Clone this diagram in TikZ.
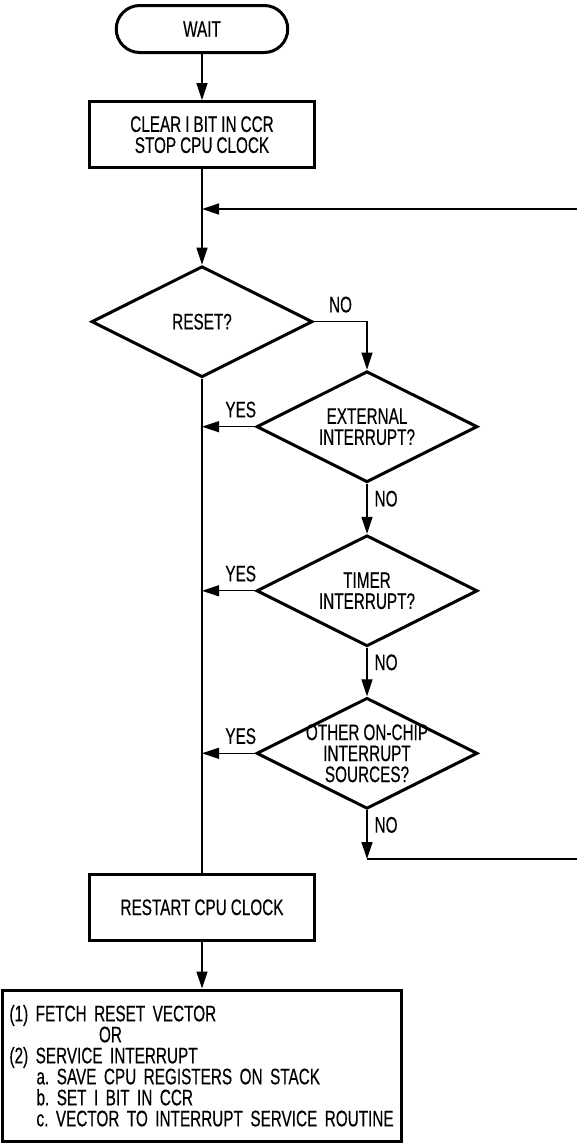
\documentclass[tikz,border=0pt]{standalone}
\usepackage{fontspec}
\setmainfont{Liberation Sans}[FakeStretch=0.68, FakeBold=0.4]
\frenchspacing
\usetikzlibrary{shapes.geometric,arrows.meta}

\newcommand\flowfont{\fontsize{22.5}{21}\selectfont\spaceskip=4pt plus 1pt minus 1pt\hyphenpenalty=10000}

\tikzset{
    txt/.style={font=\flowfont, align=center},
    term/.style={txt, draw, line width=3pt, rounded corners=23.5pt, minimum width=171.5pt, minimum height=47pt},
    proc/.style={txt, draw, line width=3pt, inner sep=0pt, minimum width=225pt, minimum height=66pt},
    decide/.style={txt, draw, diamond, aspect=2, line width=3pt, inner sep=-4pt, minimum width=221pt, minimum height=111pt},
    conn/.style={line width=1.3pt},
    flow/.style={conn, -{Triangle[length=17pt,width=11pt]}},
    lbl/.style={font=\flowfont, inner sep=1pt}
}

\begin{document}
\begin{tikzpicture}[x=1pt,y=-1pt]
    \useasboundingbox (0,0) rectangle (577,1144);
    % Nodos
    \node[term] (wait) at (202,29) {WAIT};
    \node[proc] (clear) at (202,134.7) {CLEAR I BIT IN CCR\\STOP CPU CLOCK};
    \node[decide] (reset) at (202,321.7) {RESET?};
    \node[decide] (ext) at (367,426.7) {EXTERNAL\\INTERRUPT?};
    \node[decide] (timer) at (367,590.8) {TIMER\\INTERRUPT?};
    \node[decide] (other) at (367,753.3) {OTHER ON-CHIP\\INTERRUPT\\SOURCES?};
    \node[proc] (restart) at (202,907.3) {RESTART CPU CLOCK};
    \node[proc, align=left, inner xsep=7pt, text width=385pt, minimum width=399pt, minimum height=151.5pt] (fetch) at (202,1065.75)
        {\mbox{(1) FETCH RESET VECTOR}\\
         \hspace*{89.5pt}OR\\
         \mbox{(2) SERVICE INTERRUPT}\\
         \hspace*{27pt}\mbox{a. SAVE CPU REGISTERS ON STACK}\\
         \hspace*{27pt}\mbox{b. SET I BIT IN CCR}\\
         \hspace*{27pt}\mbox{c. VECTOR TO INTERRUPT SERVICE ROUTINE}};
    % Puntos del lazo
    \coordinate (loopin) at (577,209);
    \coordinate (join) at (202,209);
    \coordinate (nocorner) at (367,859);
    \coordinate (loopout) at (577,859);
    % Flechas principales
    \draw[flow] (wait) -- (clear);
    \draw[flow] (clear) -- (reset);
    \draw[flow] (loopin) -- (join);
    \draw[conn] (reset) -- (restart);
    \draw[flow] (restart) -- (fetch);
    % Ramas NO
    \draw[flow] (reset.east) -| node[lbl, pos=0.25, above=7.5pt] {NO} (ext.north);
    \draw[flow] (ext) -- node[lbl, pos=0.3, right=6pt] {NO} (timer);
    \draw[flow] (timer) -- node[lbl, pos=0.3, right=6pt] {NO} (other);
    \draw[flow] (other) -- node[lbl, pos=0.3, right=6pt] {NO} (nocorner);
    \draw[conn] (nocorner) -- (loopout);
    % Ramas YES
    \draw[flow] (ext.west) -- node[lbl, pos=0.27, above=7.5pt] {YES} (ext.west -| reset.south);
    \draw[flow] (timer.west) -- node[lbl, pos=0.27, above=7.5pt] {YES} (timer.west -| reset.south);
    \draw[flow] (other.west) -- node[lbl, pos=0.27, above=7.5pt] {YES} (other.west -| reset.south);
\end{tikzpicture}
\end{document}
